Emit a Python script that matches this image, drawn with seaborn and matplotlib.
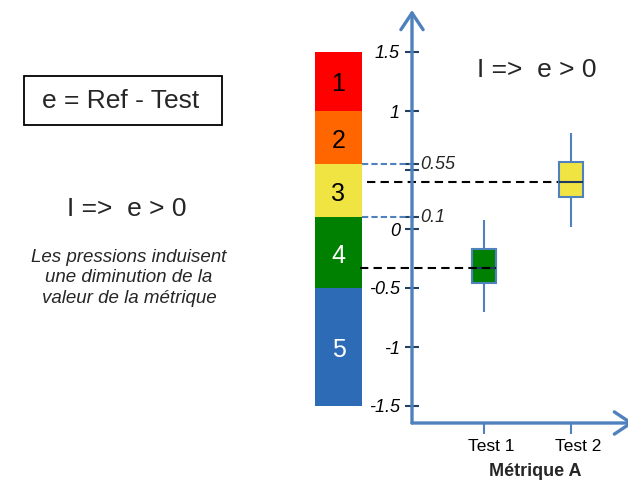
import numpy as np
import pandas as pd
import matplotlib.pyplot as plt
import seaborn as sns
from matplotlib.patches import Rectangle
from matplotlib.transforms import ScaledTranslation

# five-number summaries (min, q1, median, q3, max)
tests = ["Test 1", "Test 2"]
test1_values = [-0.70, -0.46, -0.33, -0.17, 0.08]
test2_values = [0.02, 0.27, 0.40, 0.57, 0.81]
box_colors = ["#008000", "#F0E443"]

# class scale on the left of the axis
class_labels = ["1", "2", "3", "4", "5"]
class_bounds = [1.5, 1.0, 0.55, 0.1, -0.5, -1.5]
class_colors = ["#FF0000", "#FF6600", "#F0E443", "#008000", "#2E6BB6"]
class_text_colors = ["black", "black", "black", "white", "white"]
threshold_values = [0.55, 0.1]

ytick_values = [-1.5, -1, -0.5, 0, 0.5, 1, 1.5]
ytick_labels = ["-1.5", "-1", "-0.5", "0", "", "1", "1.5"]

axis_blue = "#4F81BD"
tick_navy = "#243F60"

sns.set_style("white")
plt.rcParams["font.family"] = ["Liberation Sans", "DejaVu Sans"]

df = pd.DataFrame({
    "test": np.repeat(tests, 5),
    "e": test1_values + test2_values,
})

fig = plt.figure(figsize=(6.28, 4.8), dpi=100)
ax = fig.add_axes([0, 0, 1, 1])

sns.boxplot(data=df, x="test", y="e", hue="test", palette=box_colors,
            saturation=1, width=0.28, linecolor=axis_blue, linewidth=1.5,
            showcaps=False, whis=10, legend=False, dodge=False,
            medianprops=dict(color="#1F3A5F", linewidth=1.5), ax=ax)
ax.set_xlabel("")
ax.set_ylabel("")

# axes placement (px -> data): x = (px - 484) / 87, y = (229 - py) / 118
ax.set_xlim(-484 / 87, (628 - 484) / 87)
ax.set_ylim((229 - 480) / 118, 229 / 118)
axis_x = (412 - 484) / 87
axis_y = (229 - 423) / 118

# class bar
bar_left, bar_right = (315 - 484) / 87, (362 - 484) / 87
tops = np.array(class_bounds[:-1])
bottoms = np.array(class_bounds[1:])
ax.bar(x=(bar_left + bar_right) / 2, height=tops - bottoms, bottom=bottoms,
       width=bar_right - bar_left, color=class_colors, linewidth=0, zorder=1)
for lab, top, bot, tc in zip(class_labels, tops, bottoms, class_text_colors):
    ax.text((bar_left + bar_right) / 2, (top + bot) / 2 - 0.025, lab,
            ha="center", va="center", fontsize=18, color=tc)

# threshold lines from the class bar to the axis
for v in threshold_values:
    ax.plot([bar_right, axis_x], [v, v], color=axis_blue, lw=1.5,
            dashes=(3, 1.5), zorder=1)
    ax.text(axis_x + 0.1, v, f"{v:g}", ha="left", va="center",
            fontsize=13, style="italic")

# median projections
medians = [np.median(test1_values), np.median(test2_values)]
ax.plot([(360 - 484) / 87, 0 + 0.14], [medians[0]] * 2, color="black",
        lw=1.5, dashes=(4, 2.5), zorder=5)
ax.plot([(367 - 484) / 87, 1 - 0.14], [medians[1]] * 2, color="black",
        lw=1.5, dashes=(4, 2.5), zorder=1)

# axis arrows
arrow = dict(arrowstyle="->,head_length=0.6,head_width=0.4",
             color=axis_blue, lw=2.4, shrinkA=0, shrinkB=0,
             mutation_scale=20)
ax.annotate("", xy=(axis_x, (229 - 10) / 118), xytext=(axis_x, axis_y),
            arrowprops=arrow, annotation_clip=False)
ax.annotate("", xy=((634 - 484) / 87, axis_y), xytext=(axis_x, axis_y),
            arrowprops=arrow, annotation_clip=False)

# ticks on the arrows
for s in ax.spines.values():
    s.set_color("none")
ax.spines["left"].set_position(("data", axis_x))
ax.spines["bottom"].set_position(("data", axis_y))
ax.set_yticks(ytick_values)
ax.set_yticklabels(ytick_labels, fontsize=13, style="italic")
ax.set_yticks(threshold_values, minor=True)
ax.tick_params(axis="y", which="both", left=True, direction="inout",
               length=9.5, width=1.5, color=tick_navy, pad=4.0,
               labelcolor="black")
ax.tick_params(axis="x", bottom=True, direction="out", length=8,
               width=1.5, color=axis_blue, pad=3.5, labelsize=12.5,
               labelcolor="black")
for lab in ax.get_xticklabels():
    lab.set_transform(lab.get_transform()
                      + ScaledTranslation(0.07, 0, fig.dpi_scale_trans))
ax.grid(False)

ax.text((535 - 484) / 87, (229 - 472) / 118, "Métrique A", ha="center",
        va="center", fontsize=13, fontweight="bold")
ax.text((537 - 484) / 87, (229 - 70) / 118, "I =>  e > 0", ha="center",
        va="center", fontsize=19)

# left-hand notes
fig.patches.append(Rectangle((24 / 628, 1 - 125 / 480), 198 / 628, 49 / 480,
                             transform=fig.transFigure, fill=False,
                             edgecolor="black", lw=1.3))
fig.text(121 / 628, 1 - 101 / 480, "e = Ref - Test", ha="center",
         va="center", fontsize=19)
fig.text(127 / 628, 1 - 209 / 480, "I =>  e > 0", ha="center",
         va="center", fontsize=19)
fig.text(129 / 628, 1 - 278 / 480,
         "Les pressions induisent\nune diminution de la\nvaleur de la métrique",
         ha="center", va="center", fontsize=13.5, style="italic",
         linespacing=1.25)

fig.savefig("out.png", dpi=100)
